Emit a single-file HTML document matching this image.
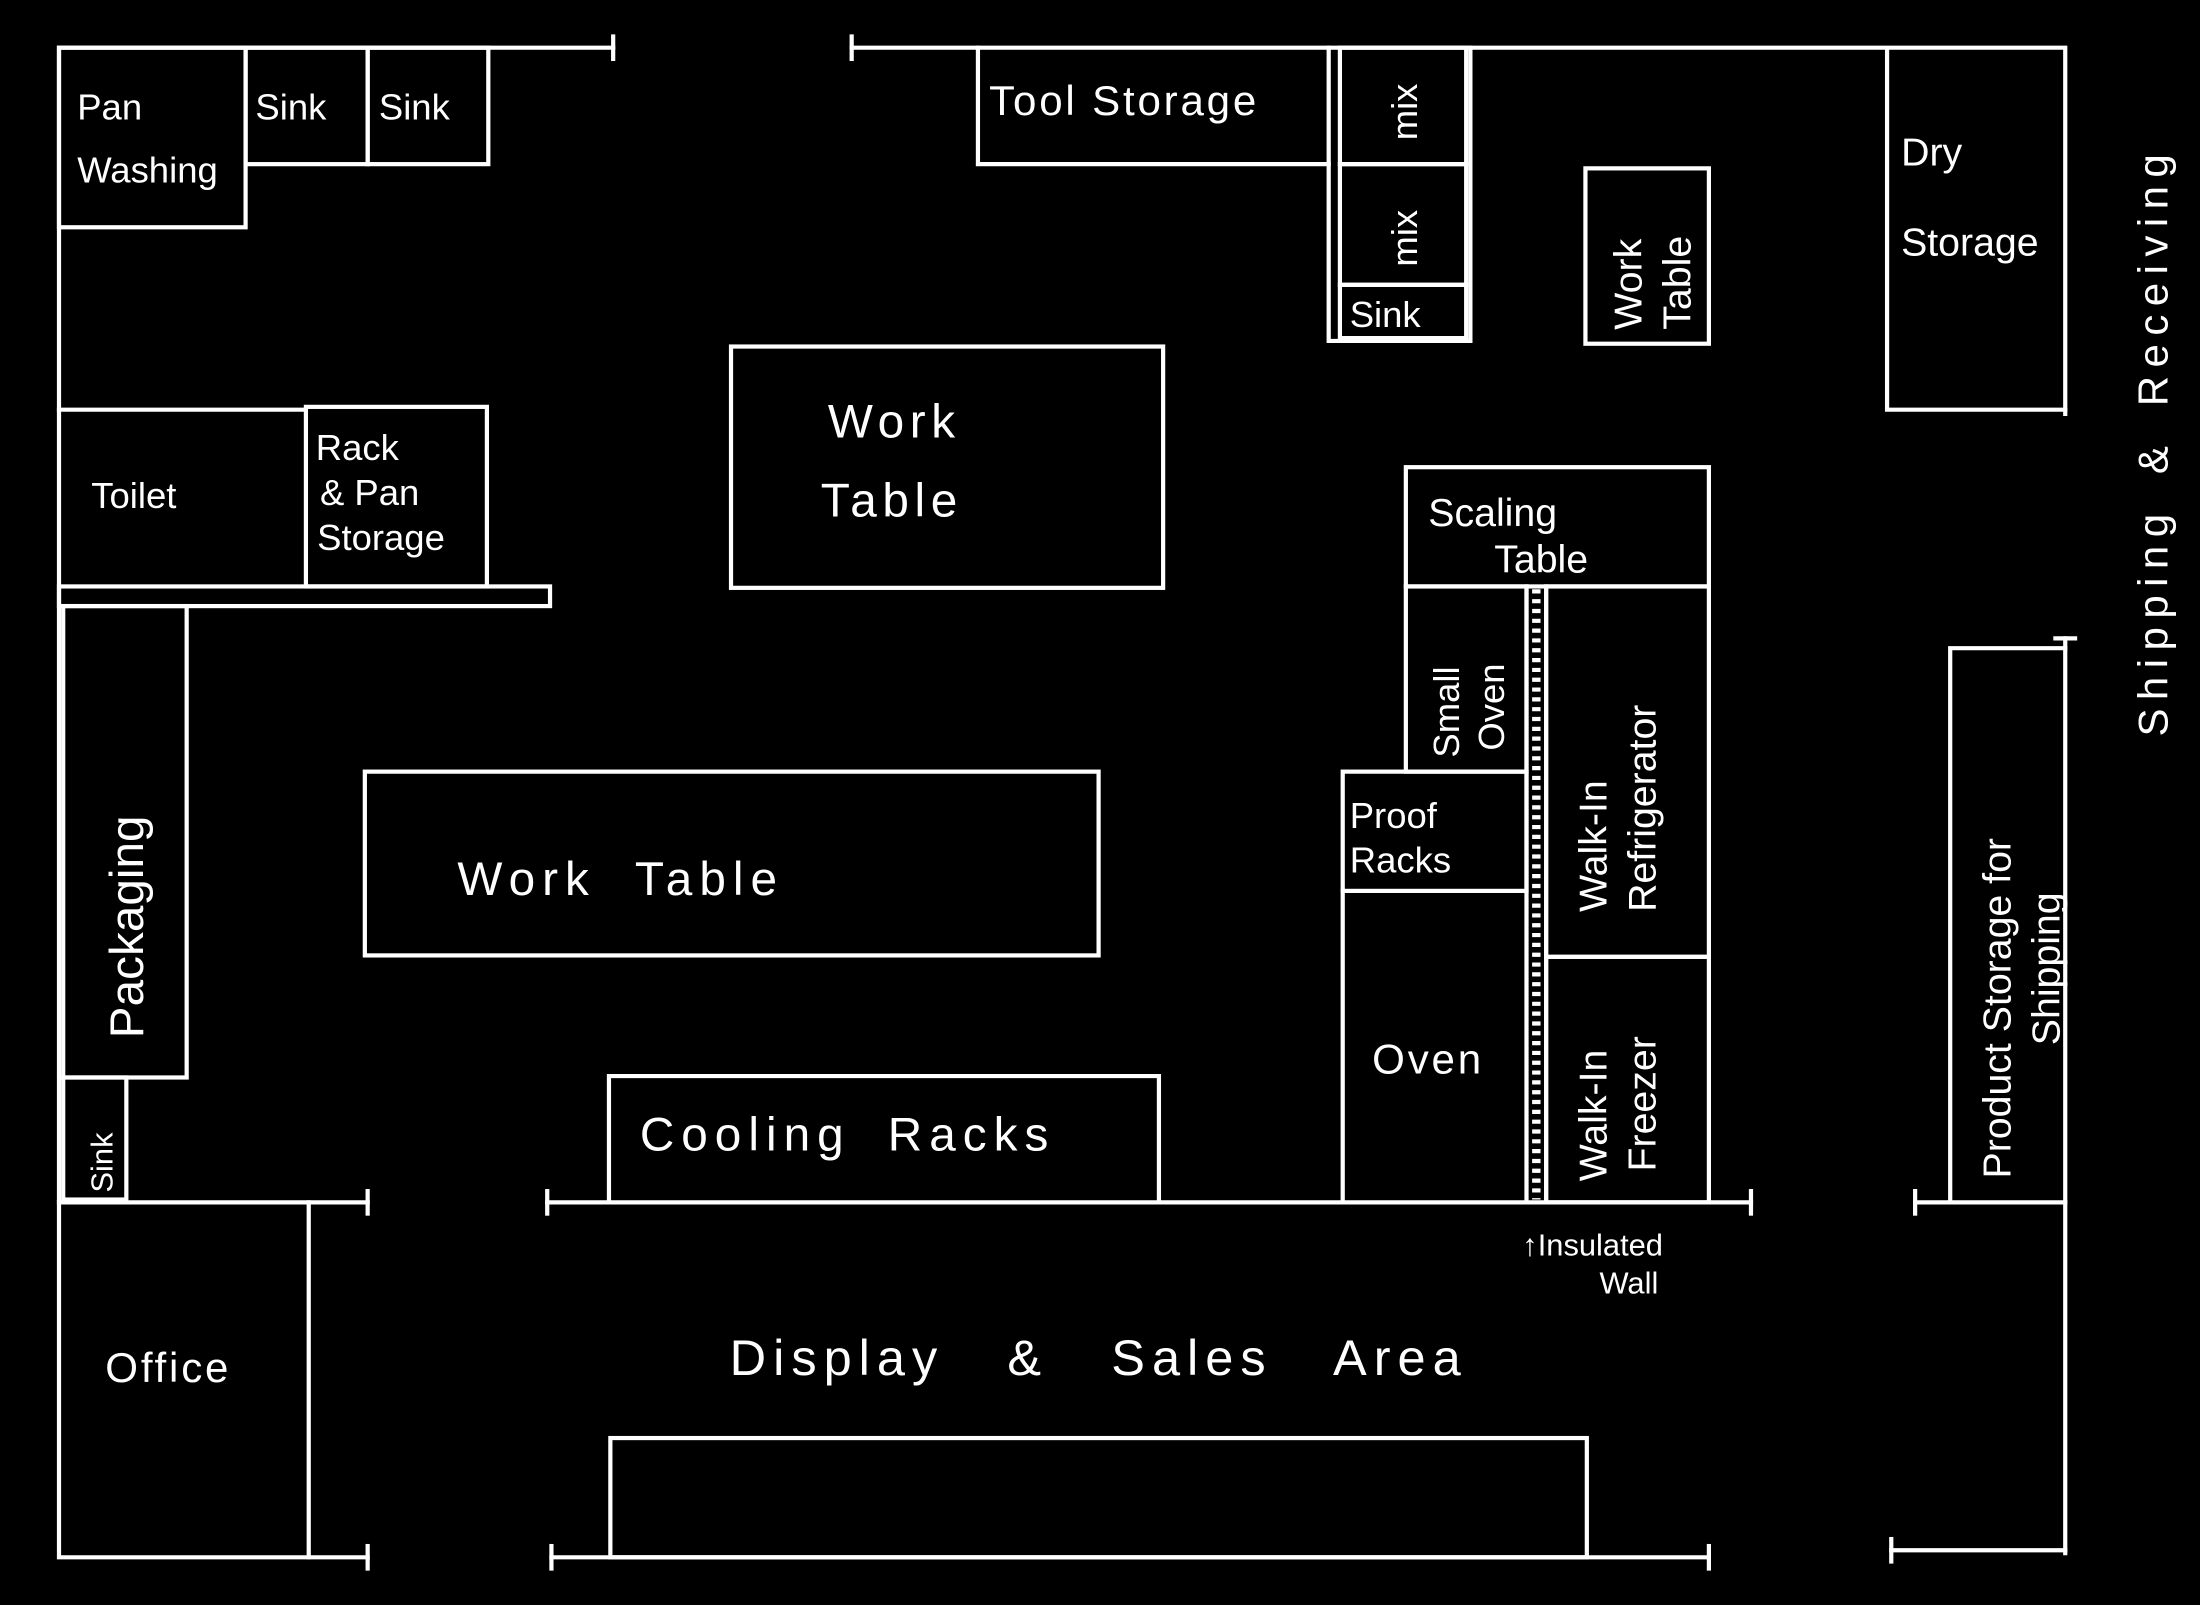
<!DOCTYPE html>
<html><head><meta charset="utf-8"><style>
html,body{margin:0;padding:0;background:#000;}
svg{display:block;}
text{font-family:"Liberation Sans",sans-serif;fill:#fff;}
</style></head><body>
<svg width="2200" height="1605" viewBox="0 0 1568 1144" xmlns="http://www.w3.org/2000/svg">
<rect width="1568" height="1144" fill="#000"/>
<g fill="none" stroke="#fff" stroke-width="3" stroke-linecap="square">
<polyline points="437,34 42,34 42,1110 262,1110"/>
<line x1="437" y1="26" x2="437" y2="42"/>
<line x1="262" y1="1102" x2="262" y2="1118"/>
<polyline points="607,34 1472,34 1472,295"/>
<line x1="607" y1="26" x2="607" y2="42"/>
<line x1="1472" y1="455" x2="1472" y2="1107"/>
<line x1="1465" y1="455" x2="1479" y2="455"/>
<line x1="393" y1="1110" x2="1218" y2="1110"/>
<line x1="393" y1="1102" x2="393" y2="1118"/>
<line x1="1218" y1="1102" x2="1218" y2="1118"/>
<line x1="1348" y1="1105" x2="1472" y2="1105"/>
<line x1="1348" y1="1097" x2="1348" y2="1113"/>
<line x1="42" y1="857" x2="262" y2="857"/>
<line x1="262" y1="849" x2="262" y2="865"/>
<line x1="390" y1="857" x2="1248" y2="857"/>
<line x1="390" y1="849" x2="390" y2="865"/>
<line x1="1248" y1="849" x2="1248" y2="865"/>
<line x1="1365" y1="857" x2="1472" y2="857"/>
<line x1="1365" y1="849" x2="1365" y2="865"/>
<rect x="42" y="34" width="133" height="128"/>
<rect x="175" y="34" width="87" height="83"/>
<rect x="262" y="34" width="86" height="83"/>
<polyline points="697,34 697,117 947,117"/>
<polyline points="947,34 947,243 1048,243 1048,34"/>
<rect x="955" y="34" width="90" height="83"/>
<rect x="955" y="117" width="90" height="86"/>
<rect x="955" y="203" width="90" height="38"/>
<rect x="1130" y="120" width="88" height="125"/>
<polyline points="1345,36 1345,292 1472,292"/>
<line x1="42" y1="292" x2="218" y2="292"/>
<rect x="218" y="290" width="129" height="128"/>
<rect x="42" y="418" width="350" height="14"/>
<rect x="45" y="432" width="88" height="336"/>
<rect x="45" y="768" width="45" height="87"/>
<rect x="521" y="247" width="308" height="172"/>
<rect x="260" y="550" width="523" height="131"/>
<polyline points="434,857 434,767 826,767 826,857"/>
<line x1="220" y1="857" x2="220" y2="1110"/>
<rect x="435" y="1025" width="696" height="85"/>
<rect x="1002" y="333" width="216" height="85"/>
<rect x="1002" y="418" width="86" height="132"/>
<rect x="957" y="550" width="131" height="85"/>
<polyline points="957,635 957,857"/>
<line x1="1088" y1="418" x2="1088" y2="857"/>
<line x1="1102" y1="418" x2="1102" y2="857"/>
<rect x="1102" y="418" width="116" height="264"/>
<rect x="1102" y="682" width="116" height="175"/>
<polyline points="1390,855 1390,462 1472,462"/>
</g>
<line x1="1095" y1="420" x2="1095" y2="855" stroke="#fff" stroke-width="6" stroke-dasharray="3,4"/>
<g font-size="26">
<text x="55" y="85">Pan</text>
<text x="55" y="130">Washing</text>
<text x="182" y="85">Sink</text>
<text x="270" y="85">Sink</text>
<text x="705" y="82" font-size="30" letter-spacing="2">Tool Storage</text>
<text transform="translate(1010,100) rotate(-90)">mix</text>
<text transform="translate(1010,190) rotate(-90)">mix</text>
<text x="962" y="233">Sink</text>
<text transform="translate(1170,235) rotate(-90)" font-size="28">Work</text>
<text transform="translate(1205,235) rotate(-90)" font-size="28">Table</text>
<text x="1355" y="118" font-size="28">Dry</text>
<text x="1355" y="182" font-size="28">Storage</text>
<text transform="translate(1545,525) rotate(-90)" font-size="30" letter-spacing="6" word-spacing="8">Shipping &amp; Receiving</text>
<text x="590" y="312" font-size="34" letter-spacing="4">Work</text>
<text x="585" y="368" font-size="34" letter-spacing="4">Table</text>
<text x="65" y="362">Toilet</text>
<text x="225" y="328">Rack</text>
<text x="228" y="360">&amp; Pan</text>
<text x="226" y="392">Storage</text>
<text transform="translate(102,740) rotate(-90)" font-size="34">Packaging</text>
<text transform="translate(80,850) rotate(-90)" font-size="22">Sink</text>
<text x="326" y="638" font-size="34" letter-spacing="5" word-spacing="14">Work Table</text>
<text x="1018" y="375" font-size="28">Scaling</text>
<text x="1065" y="408" font-size="28">Table</text>
<text transform="translate(1040,540) rotate(-90)">Small</text>
<text transform="translate(1072,535) rotate(-90)">Oven</text>
<text x="962" y="590">Proof</text>
<text x="962" y="622">Racks</text>
<text x="978" y="765" font-size="30" letter-spacing="2">Oven</text>
<text transform="translate(1145,650) rotate(-90)" font-size="28">Walk-In</text>
<text transform="translate(1180,650) rotate(-90)" font-size="28">Refrigerator</text>
<text transform="translate(1145,842) rotate(-90)" font-size="28">Walk-In</text>
<text transform="translate(1180,835) rotate(-90)" font-size="28">Freezer</text>
<text transform="translate(1433,840) rotate(-90)" font-size="28">Product Storage for</text>
<text transform="translate(1468,745) rotate(-90)" font-size="28">Shipping</text>
<text x="456" y="820" font-size="34" letter-spacing="5" word-spacing="12">Cooling Racks</text>
<text x="1085" y="895" font-size="22">↑Insulated</text>
<text x="1140" y="922" font-size="22">Wall</text>
<text x="75" y="985" font-size="30" letter-spacing="2">Office</text>
<text x="520" y="980" font-size="36" letter-spacing="5" word-spacing="30">Display &amp; Sales Area</text>
</g>
</svg>
</body></html>
